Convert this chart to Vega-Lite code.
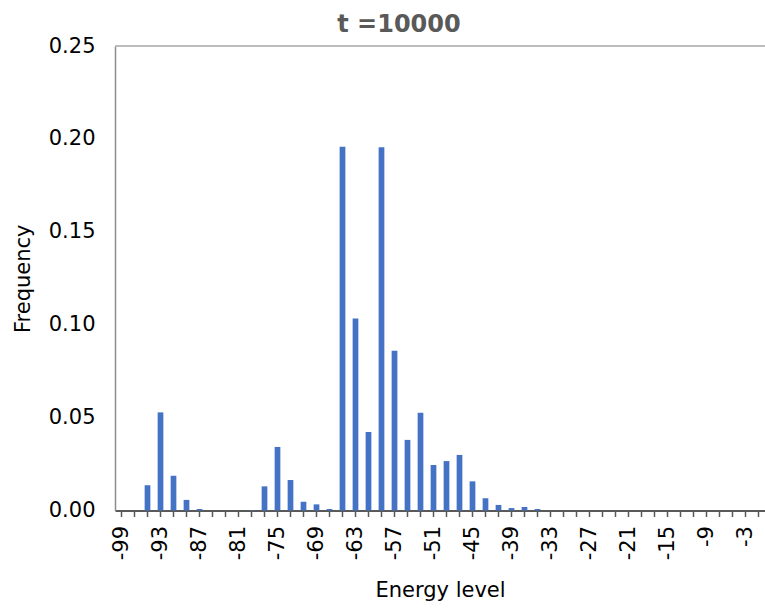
{
  "$schema": "https://vega.github.io/schema/vega-lite/v6.json",
  "width": 650,
  "height": 464.5,
  "autosize": {"type": "none"},
  "padding": {"left": 115, "top": 46, "right": 0, "bottom": 99.5},
  "config": {"view": {"stroke": null}, "font": "DejaVu Sans"},
  "title": {
    "text": "t =10000",
    "font": "DejaVu Sans",
    "fontSize": 24,
    "fontWeight": "bold",
    "color": "#595959",
    "anchor": "middle",
    "frame": "group",
    "dx": -41,
    "offset": -21,
    "baseline": "alphabetic"
  },
  "data": {
    "values": [
      {"energy": -99, "freq": 0},
      {"energy": -97, "freq": 0},
      {"energy": -95, "freq": 0.0136},
      {"energy": -93, "freq": 0.0528},
      {"energy": -91, "freq": 0.0187},
      {"energy": -89, "freq": 0.0057},
      {"energy": -87, "freq": 0.0008},
      {"energy": -85, "freq": 0},
      {"energy": -83, "freq": 0},
      {"energy": -81, "freq": 0},
      {"energy": -79, "freq": 0.0002},
      {"energy": -77, "freq": 0.013},
      {"energy": -75, "freq": 0.0342},
      {"energy": -73, "freq": 0.0164},
      {"energy": -71, "freq": 0.0047},
      {"energy": -69, "freq": 0.0033},
      {"energy": -67, "freq": 0.0008},
      {"energy": -65, "freq": 0.1958},
      {"energy": -63, "freq": 0.1034},
      {"energy": -61, "freq": 0.0422},
      {"energy": -59, "freq": 0.1955},
      {"energy": -57, "freq": 0.086},
      {"energy": -55, "freq": 0.038},
      {"energy": -53, "freq": 0.0526},
      {"energy": -51, "freq": 0.0245},
      {"energy": -49, "freq": 0.0266},
      {"energy": -47, "freq": 0.0299},
      {"energy": -45, "freq": 0.0157},
      {"energy": -43, "freq": 0.0066},
      {"energy": -41, "freq": 0.003},
      {"energy": -39, "freq": 0.0013},
      {"energy": -37, "freq": 0.0019},
      {"energy": -35, "freq": 0.0008},
      {"energy": -33, "freq": 0},
      {"energy": -31, "freq": 0},
      {"energy": -29, "freq": 0},
      {"energy": -27, "freq": 0},
      {"energy": -25, "freq": 0},
      {"energy": -23, "freq": 0},
      {"energy": -21, "freq": 0},
      {"energy": -19, "freq": 0},
      {"energy": -17, "freq": 0},
      {"energy": -15, "freq": 0},
      {"energy": -13, "freq": 0},
      {"energy": -11, "freq": 0},
      {"energy": -9, "freq": 0},
      {"energy": -7, "freq": 0},
      {"energy": -5, "freq": 0},
      {"energy": -3, "freq": 0},
      {"energy": -1, "freq": 0}
    ]
  },
  "layer": [
    {
      "mark": {"type": "bar", "color": "#4472C4"},
      "encoding": {
        "x": {
          "field": "energy",
          "type": "ordinal",
          "sort": "ascending",
          "scale": {"paddingInner": 0.56, "paddingOuter": 0.28},
          "axis": {
            "title": "Energy level",
            "titleFontSize": 21,
            "titleFontWeight": "normal",
            "titleColor": "#000000",
            "titlePadding": 20,
            "labelFontSize": 21,
            "labelColor": "#000000",
            "labelAngle": -90,
            "labelPadding": 9,
            "labelExpr": "(datum.value + 99) % 6 == 0 ? datum.label : ''",
            "ticks": true,
            "tickSize": 6,
            "tickWidth": 1.5,
            "tickColor": "#595959",
            "domainColor": "#595959",
            "domainWidth": 2,
            "grid": false
          }
        },
        "y": {
          "field": "freq",
          "type": "quantitative",
          "scale": {"domain": [0, 0.25], "nice": false},
          "axis": {
            "title": "Frequency",
            "titleFontSize": 21,
            "titleFontWeight": "normal",
            "titleColor": "#000000",
            "titlePadding": 15,
            "labelFontSize": 21,
            "labelColor": "#000000",
            "labelPadding": 20,
            "values": [0, 0.05, 0.1, 0.15, 0.2, 0.25],
            "format": ".2f",
            "ticks": false,
            "grid": false,
            "domainColor": "#8c8c8c",
            "domainWidth": 1.5
          }
        }
      }
    },
    {
      "mark": {"type": "rule", "color": "#bcbcbc", "strokeWidth": 1.5},
      "encoding": {"y": {"datum": 0.25}}
    }
  ]
}
